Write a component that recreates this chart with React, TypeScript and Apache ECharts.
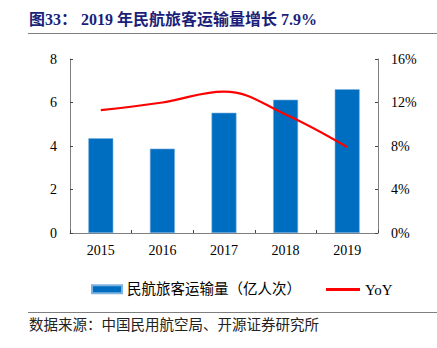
import React, { useEffect, useRef } from "react";
import * as echarts from "echarts";

const categories = ["2015", "2016", "2017", "2018", "2019"];
const passengers = [4.36, 3.88, 5.53, 6.13, 6.61];
const yoy = [11.3, 12.0, 13.0, 10.9, 7.9];
const leftTicks = [0, 2, 4, 6, 8];
const rightTicks = [0, 4, 8, 12, 16];

const FONT = "'Liberation Serif', 'Times New Roman', 'Noto Sans CJK SC', serif";

export default function App() {
  const ref = useRef<HTMLDivElement>(null);
  useEffect(() => {
    const chart = echarts.init(ref.current!, undefined, { renderer: "svg" });
    const axisLine = { show: true, lineStyle: { color: "#7f7f7f", width: 1 } };
    const axisTick = { show: true, inside: true, length: 3, lineStyle: { color: "#444" } };
    chart.setOption({
      animation: false,
      textStyle: { fontFamily: FONT },
      grid: { left: 70, right: 59, top: 59, bottom: 115 },
      xAxis: {
        type: "category",
        data: categories,
        axisLine,
        axisTick,
        axisLabel: { color: "#000", fontSize: 14, fontFamily: FONT, margin: 10 },
      },
      yAxis: [
        {
          type: "value",
          min: leftTicks[0],
          max: leftTicks[leftTicks.length - 1],
          interval: 2,
          axisLine,
          axisTick,
          splitLine: { show: false },
          axisLabel: { color: "#000", fontSize: 14, fontFamily: FONT, margin: 13 },
        },
        {
          type: "value",
          min: rightTicks[0],
          max: rightTicks[rightTicks.length - 1],
          interval: 4,
          position: "right",
          axisLine,
          axisTick,
          splitLine: { show: false },
          axisLabel: { color: "#000", fontSize: 14, fontFamily: FONT, margin: 13, formatter: "{value}%" },
        },
      ],
      legend: [
        {
          left: 86,
          top: 277,
          itemWidth: 30,
          itemHeight: 8,
          textStyle: { color: "#000", fontSize: 14.5, fontFamily: FONT },
          data: [{ name: "民航旅客运输量（亿人次）", icon: "rect" }],
        },
        {
          left: 321,
          top: 277,
          itemWidth: 34,
          itemHeight: 3,
          textStyle: { color: "#000", fontSize: 15, fontFamily: FONT },
          data: [{ name: "YoY", icon: "rect" }],
        },
      ],
      series: [
        {
          name: "民航旅客运输量（亿人次）",
          type: "bar",
          data: passengers,
          barWidth: 25,
          itemStyle: { color: "#006EC0", borderColor: "#7fb1e0", borderWidth: 0.6 },
        },
        {
          name: "YoY",
          type: "line",
          yAxisIndex: 1,
          data: yoy,
          smooth: 0.4,
          symbol: "none",
          lineStyle: { color: "#ff0000", width: 2.2 },
          itemStyle: { color: "#ff0000" },
        },
      ],
      graphic: [
        {
          type: "text",
          left: 29,
          top: 11,
          style: {
            text: "图33： 2019 年民航旅客运输量增长 7.9%",
            fill: "#1b1f7a",
            font: `bold 16px ${FONT}`,
          },
        },
        {
          type: "line",
          shape: { x1: 28, y1: 33.5, x2: 437, y2: 33.5 },
          style: { stroke: "#7f7f7f", lineWidth: 1 },
        },
        {
          type: "line",
          shape: { x1: 28, y1: 312.5, x2: 437, y2: 312.5 },
          style: { stroke: "#7f7f7f", lineWidth: 1 },
        },
        {
          type: "text",
          left: 29,
          top: 318,
          style: {
            text: "数据来源：中国民用航空局、开源证券研究所",
            fill: "#222",
            font: `14.5px ${FONT}`,
          },
        },
      ],
    });
    return () => chart.dispose();
  }, []);
  return <div ref={ref} style={{ width: 437, height: 348, position: "absolute", left: 0, top: 0 }} />;
}
